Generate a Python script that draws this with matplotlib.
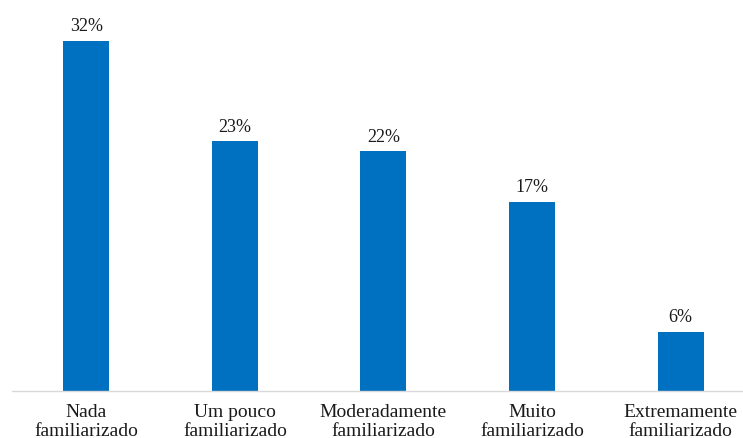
import matplotlib.pyplot as plt

categories = ['Nada\nfamiliarizado', 'Um pouco\nfamiliarizado', 'Moderadamente\nfamiliarizado',
              'Muito\nfamiliarizado', 'Extremamente\nfamiliarizado']
values = [32.0, 22.8, 21.9, 17.3, 5.4]
value_labels = ['32%', '23%', '22%', '17%', '6%']

plt.rcParams['font.family'] = ['Liberation Serif', 'DejaVu Serif']

fig = plt.figure(figsize=(7.43, 4.39), dpi=100)
ax = fig.add_axes([12 / 743, 47 / 439, 731 / 743, 392 / 439])

x = range(len(categories))
bars = ax.bar(x, values, width=0.31, color='#0070C0')

for b, lab in zip(bars, value_labels):
    ax.text(b.get_x() + b.get_width() / 2, b.get_height() + 0.6, lab,
            ha='center', va='bottom', fontsize=13, color='#1a1a1a')

ax.set_xlim(-0.5, 4.42)
ax.set_ylim(0, 35.8)
ax.set_xticks(list(x))
ax.set_xticklabels(categories, fontsize=14, color='#1a1a1a', linespacing=1.08)
ax.tick_params(axis='x', length=0, pad=9)
ax.set_yticks([])

for s in ['top', 'right', 'left']:
    ax.spines[s].set_visible(False)
ax.spines['bottom'].set_color('#D9D9D9')
ax.spines['bottom'].set_linewidth(1.0)

fig.savefig('out.png', dpi=100)
